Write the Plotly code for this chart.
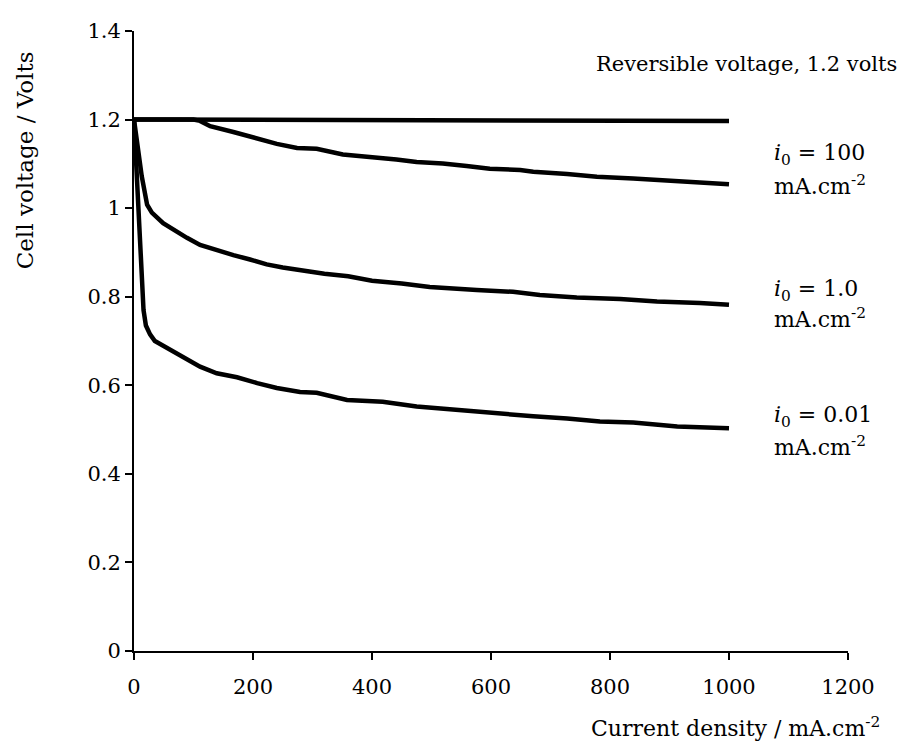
import plotly.graph_objects as go

# Reversible voltage line
rev_x = [0, 1000]
rev_y = [1.2, 1.197]

# i0 = 100 mA/cm2
i100_x = [0, 60, 100, 111, 128, 167, 207, 240, 274, 307, 351, 391, 441, 475, 519, 559, 598, 649, 671, 728, 778, 839, 918, 1000]
i100_y = [1.2, 1.2, 1.2, 1.197, 1.185, 1.172, 1.156, 1.145, 1.136, 1.134, 1.121, 1.117, 1.110, 1.104, 1.101, 1.095, 1.089, 1.086, 1.082, 1.077, 1.071, 1.067, 1.060, 1.054]

# i0 = 1.0 mA/cm2
i1_x = [0, 8, 13, 22, 30, 49, 70, 89, 111, 133, 167, 195, 223, 250, 279, 320, 360, 400, 450, 497, 576, 637, 682, 744, 817, 879, 951, 1000]
i1_y = [1.2, 1.12, 1.072, 1.008, 0.99, 0.966, 0.948, 0.933, 0.917, 0.907, 0.894, 0.884, 0.873, 0.866, 0.860, 0.852, 0.846, 0.836, 0.830, 0.822, 0.815, 0.811, 0.804, 0.798, 0.795, 0.789, 0.786, 0.782]

# i0 = 0.01 mA/cm2
i001_x = [0, 9, 16, 20, 27, 35, 49, 80, 111, 139, 173, 207, 240, 279, 307, 358, 418, 475, 548, 615, 671, 728, 783, 839, 913, 1000]
i001_y = [1.2, 0.975, 0.77, 0.735, 0.715, 0.70, 0.689, 0.665, 0.642, 0.627, 0.618, 0.605, 0.594, 0.585, 0.583, 0.567, 0.563, 0.552, 0.543, 0.536, 0.530, 0.525, 0.518, 0.516, 0.507, 0.503]

x_ticks = [0, 200, 400, 600, 800, 1000, 1200]
y_ticks = [0, 0.2, 0.4, 0.6, 0.8, 1.0, 1.2, 1.4]
y_ticktext = ["0", "0.2", "0.4", "0.6", "0.8", "1", "1.2", "1.4"]

FAMILY = "DejaVu Serif, serif"
fig = go.Figure()
for xs, ys in [(rev_x, rev_y), (i100_x, i100_y), (i1_x, i1_y), (i001_x, i001_y)]:
    fig.add_trace(go.Scatter(x=xs, y=ys, mode="lines", line=dict(color="black", width=4.5),
                             showlegend=False, hoverinfo="skip"))

rev_font = dict(family=FAMILY, size=21, color="black")
lab_font = dict(family=FAMILY, size=22, color="black")
xt_font = dict(family=FAMILY, size=22, color="black")
yt_font = dict(family=FAMILY, size=23, color="black")
tick_font = dict(family=FAMILY, size=21, color="black")
anns = [
    dict(x=1.071, y=1.325, xref="paper", yref="y", text="Reversible voltage, 1.2 volts",
         xanchor="right", yanchor="middle", showarrow=False, font=rev_font),
    dict(x=1072, y=1.121, text="<i>i</i><sub>0</sub> = 100", xanchor="left", yanchor="middle", showarrow=False, font=lab_font),
    dict(x=1072, y=1.052, text="mA.cm<sup>-2</sup>", xanchor="left", yanchor="middle", showarrow=False, font=lab_font),
    dict(x=1072, y=0.815, text="<i>i</i><sub>0</sub> = 1.0", xanchor="left", yanchor="middle", showarrow=False, font=lab_font),
    dict(x=1072, y=0.751, text="mA.cm<sup>-2</sup>", xanchor="left", yanchor="middle", showarrow=False, font=lab_font),
    dict(x=1072, y=0.529, text="<i>i</i><sub>0</sub> = 0.01", xanchor="left", yanchor="middle", showarrow=False, font=lab_font),
    dict(x=1072, y=0.463, text="mA.cm<sup>-2</sup>", xanchor="left", yanchor="middle", showarrow=False, font=lab_font),
    dict(x=1.048, y=-0.122, xref="paper", yref="paper", text="Current density / mA.cm<sup>-2</sup>",
         xanchor="right", yanchor="middle", showarrow=False, font=xt_font),
    dict(x=-0.153, y=0.791, xref="paper", yref="paper", text="Cell voltage / Volts", textangle=-90,
         xanchor="center", yanchor="middle", showarrow=False, font=yt_font),
]

fig.update_layout(
    width=897, height=746,
    margin=dict(l=126, r=57, t=11, b=103),
    paper_bgcolor="white", plot_bgcolor="white",
    font=dict(family=FAMILY, size=21, color="black"),
    annotations=anns,
    xaxis=dict(range=[0, 1200], tickvals=x_ticks, showgrid=False, zeroline=False,
               showline=True, linecolor="black", linewidth=2, ticks="outside", ticklen=7, tickwidth=2,
               tickcolor="black", ticklabelstandoff=9, ticklabeloverflow="allow", tickfont=tick_font),
    yaxis=dict(range=[0, 1.4], tickvals=y_ticks, ticktext=y_ticktext, showgrid=False, zeroline=False,
               showline=True, linecolor="black", linewidth=2, ticks="outside", ticklen=7, tickwidth=2,
               tickcolor="black", ticklabeloverflow="allow", tickfont=tick_font),
)

fig.write_html("out.html")
